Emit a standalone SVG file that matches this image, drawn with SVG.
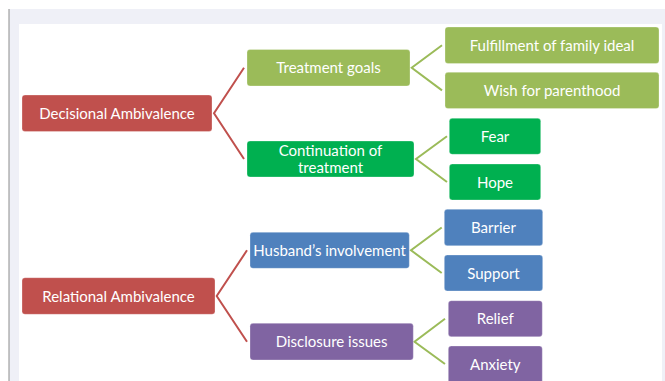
<svg xmlns="http://www.w3.org/2000/svg" width="665" height="381" viewBox="0 0 665 381">
<style>
.bg{fill:#eff0f7}
.box{stroke:#ffffff;stroke-opacity:0.35;stroke-width:0.8}
.red{fill:#c0504d}
.lg{fill:#9bbb59}
.gr{fill:#00b050}
.bl{fill:#4f81bd}
.pu{fill:#8064a2}
.t{font-family:Lato,"Open Sans",sans-serif;font-size:15px;fill:#ffffff;text-anchor:middle}
.cr{fill:none;stroke:#c0504d;stroke-width:2;stroke-linejoin:miter}
.cg{fill:none;stroke:#9bbb59;stroke-width:2;stroke-linejoin:miter}
</style>
<rect x="0" y="0" width="665" height="381" fill="#ffffff"/>
<rect class="bg" x="9" y="9" width="656" height="372"/>
<rect x="19" y="24" width="643" height="357" fill="#ffffff"/>
<line x1="9" y1="9" x2="9" y2="381" stroke="#8c8c8c" stroke-width="1"/>

<g id="connectors">
<polyline class="cr" points="244,67.7 214,113.3 244,159"/>
<polyline class="cg" points="442,45.3 411.7,67.7 442,90.4"/>
<polyline class="cg" points="447,136.3 416,159 447,182"/>
<polyline class="cr" points="247,250.3 216.7,296 247,341.7"/>
<polyline class="cg" points="441.7,227.5 411,250.3 441.7,273"/>
<polyline class="cg" points="445,318.7 414.5,341.7 445,364"/>
</g>

<g id="decisional">
<rect class="box red" x="22" y="95" width="190" height="36.5" rx="3"/>
<text class="t" x="117" y="118.8">Decisional Ambivalence</text>
</g>
<g id="treatment-goals">
<rect class="box lg" x="247" y="49.5" width="163" height="36.5" rx="3"/>
<text class="t" x="328.5" y="73.2">Treatment goals</text>
</g>
<g id="fulfillment">
<rect class="box lg" x="445" y="27" width="214" height="36.5" rx="3"/>
<text class="t" x="552" y="50.8">Fulfillment of family ideal</text>
</g>
<g id="wish">
<rect class="box lg" x="445" y="72.3" width="214" height="36.3" rx="3"/>
<text class="t" x="552" y="95.9">Wish for parenthood</text>
</g>
<g id="continuation">
<rect class="box gr" x="247" y="141" width="167" height="36" rx="3"/>
<text class="t" x="330.5" y="155.5">Continuation of</text>
<text class="t" x="330.5" y="172.5">treatment</text>
</g>
<g id="fear">
<rect class="box gr" x="449.3" y="118.3" width="91.4" height="36" rx="3"/>
<text class="t" x="495" y="141.8">Fear</text>
</g>
<g id="hope">
<rect class="box gr" x="449.3" y="164" width="91.4" height="36" rx="3"/>
<text class="t" x="495" y="187.5">Hope</text>
</g>
<g id="relational">
<rect class="box red" x="22" y="277.7" width="193" height="36.6" rx="3"/>
<text class="t" x="118.5" y="301.5">Relational Ambivalence</text>
</g>
<g id="husband">
<rect class="box bl" x="250" y="232.3" width="159.3" height="36" rx="3"/>
<text class="t" x="329.6" y="255.8">Husband’s involvement</text>
</g>
<g id="barrier">
<rect class="box bl" x="444.3" y="209.3" width="98.4" height="36.4" rx="3"/>
<text class="t" x="493.5" y="233">Barrier</text>
</g>
<g id="support">
<rect class="box bl" x="444.3" y="255" width="98.4" height="36" rx="3"/>
<text class="t" x="493.5" y="278.5">Support</text>
</g>
<g id="disclosure">
<rect class="box pu" x="250" y="323.3" width="163.3" height="36.7" rx="3"/>
<text class="t" x="331.6" y="347.2">Disclosure issues</text>
</g>
<g id="relief">
<rect class="box pu" x="448.3" y="300.7" width="94" height="36" rx="3"/>
<text class="t" x="495.3" y="324.2">Relief</text>
</g>
<g id="anxiety">
<rect class="box pu" x="448.3" y="346" width="94" height="38" rx="3"/>
<text class="t" x="495.3" y="369.5">Anxiety</text>
</g>
</svg>
